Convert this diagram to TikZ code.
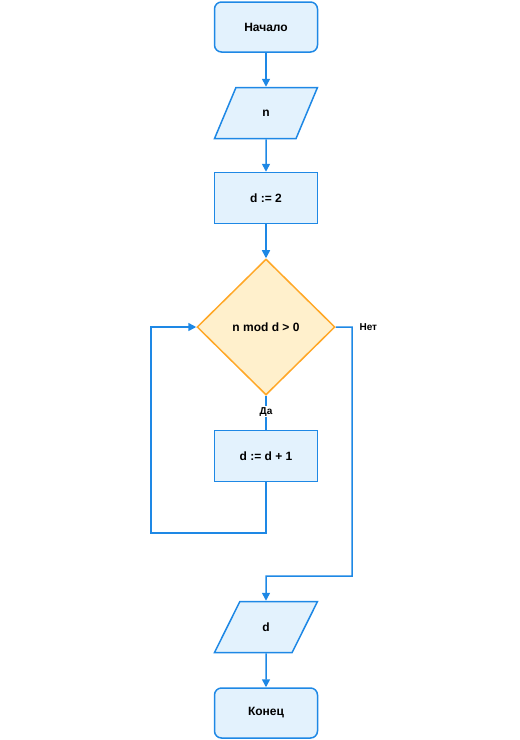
\documentclass[tikz,border=0pt]{standalone}
\usepackage{fontspec}
\setmainfont{Liberation Sans}
\usetikzlibrary{arrows.meta,shapes.geometric}
\definecolor{bstroke}{RGB}{30,136,229}
\definecolor{bfill}{RGB}{227,242,253}
\definecolor{ostroke}{RGB}{255,167,38}
\definecolor{ofill}{RGB}{255,240,204}
\tikzset{
  txt/.style={font=\fontsize{12}{14}\selectfont\bfseries},
  term/.style={txt,draw=bstroke,fill=bfill,line width=1.5pt,rounded corners=7pt,minimum width=103pt,minimum height=50pt,inner sep=0pt},
  proc/.style={txt,draw=bstroke,fill=bfill,line width=1.5pt,minimum width=103pt,minimum height=51pt,inner sep=0pt},
  io/.style={txt,draw=bstroke,fill=bfill,line width=1.5pt,trapezium,trapezium left angle=68,trapezium right angle=112,minimum width=103pt,minimum height=51pt,inner sep=0pt,trapezium stretches=true},
  dec/.style={txt,draw=ostroke,fill=ofill,line width=1.5pt,diamond,minimum width=138pt,minimum height=136pt,inner sep=0pt,aspect=1.01},
  conn/.style={draw=bstroke,line width=1.5pt},
  arr/.style={conn,-{Triangle[length=8pt,width=8pt]}},
  lbl/.style={font=\fontsize{10}{12}\selectfont\bfseries},
}
\begin{document}
\begin{tikzpicture}[x=1pt,y=-1pt]
\useasboundingbox (0,0) rectangle (520,740);
\node[term] (start) at (266,27) {Начало};
\node[io] (inn) at (266,113) {n};
\node[proc] (init) at (266,198) {d := 2};
\node[dec] (cond) at (266,327) {n mod d > 0};
\node[proc] (inc) at (266,456) {d := d + 1};
\node[io] (out) at (266,627) {d};
\node[term] (fin) at (266,713) {Конец};
\coordinate (l1) at (266,533);
\coordinate (l2) at (151,533);
\coordinate (l3) at (151,327);
\coordinate (r1) at (352,327);
\coordinate (r2) at (352,576);
\coordinate (r3) at (266,576);
\draw[arr] (start) -- (inn);
\draw[arr] (inn) -- (init);
\draw[arr] (init) -- (cond);
\draw[conn] (cond.south) -- (inc.north) node[pos=0.47,lbl,fill=white,inner sep=1pt] (da) {Да};
\draw[arr] (inc.south) -- (l1) -- (l2) -- (l3) -- (cond.west);
\draw[arr] (cond.east) -- (r1) -- (r2) -- (r3) -- (out.north);
\draw[arr] (out) -- (fin);
\node[lbl,anchor=west] (net) at (356,327) {Нет};
\end{tikzpicture}
\end{document}
